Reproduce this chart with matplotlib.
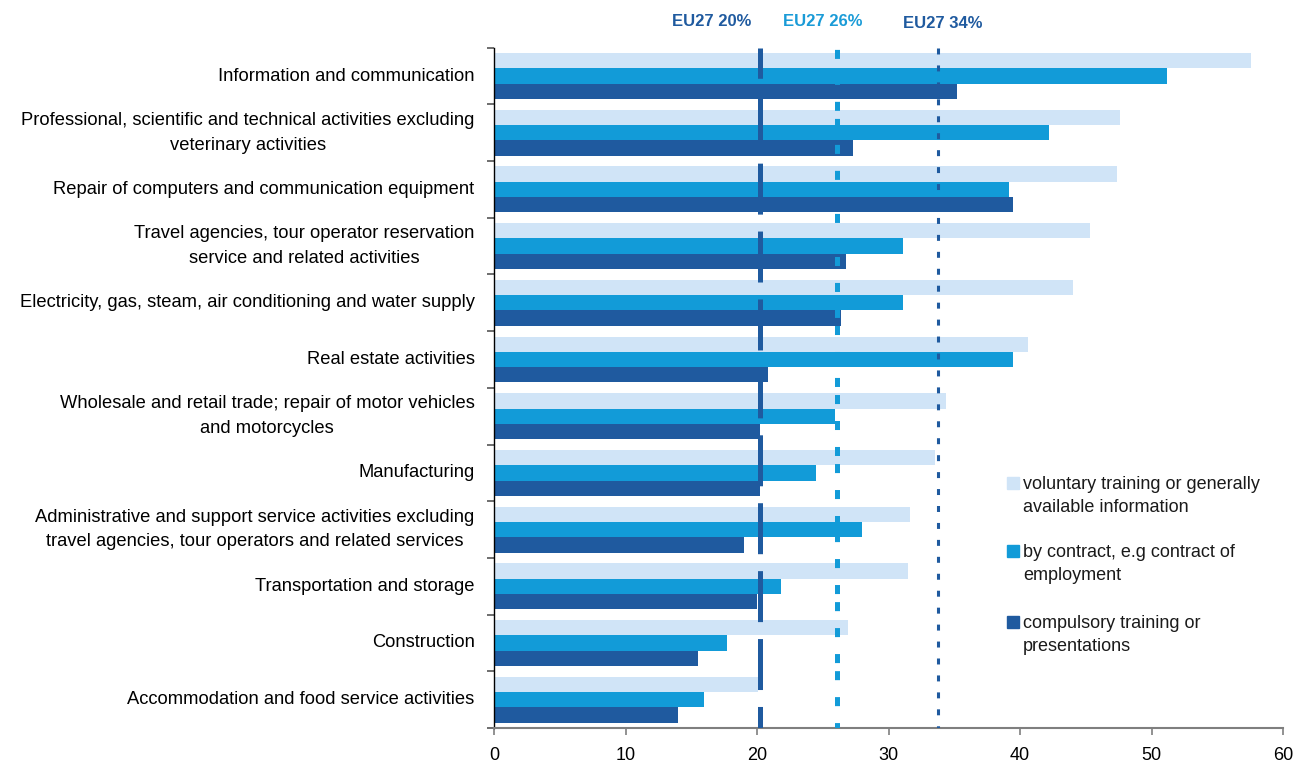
import matplotlib
matplotlib.use('Agg')
import matplotlib.pyplot as plt
from matplotlib.patches import Rectangle
from matplotlib.transforms import blended_transform_factory

# data
categories = [
    'Information and communication',
    'Professional, scientific and technical activities excluding\nveterinary activities',
    'Repair of computers and communication equipment',
    'Travel agencies, tour operator reservation\nservice and related activities',
    'Electricity, gas, steam, air conditioning and water supply',
    'Real estate activities',
    'Wholesale and retail trade; repair of motor vehicles\nand motorcycles',
    'Manufacturing',
    'Administrative and support service activities excluding\ntravel agencies, tour operators and related services',
    'Transportation and storage',
    'Construction',
    'Accommodation and food service activities',
]
voluntary = [57.6, 47.6, 47.4, 45.3, 44.0, 40.6, 34.4, 33.5, 31.6, 31.5, 26.9, 20.1]
contract = [51.2, 42.2, 39.2, 31.1, 31.1, 39.5, 25.9, 24.5, 28.0, 21.8, 17.7, 16.0]
compulsory = [35.2, 27.3, 39.5, 26.8, 26.4, 20.8, 20.2, 20.2, 19.0, 20.0, 15.5, 14.0]
series_labels = [
    'voluntary training or generally\navailable information',
    'by contract, e.g contract of\nemployment',
    'compulsory training or\npresentations',
]
eu27_values = [20.2, 26.1, 33.8]
eu27_labels = ['EU27 20%', 'EU27 26%', 'EU27 34%']
x_ticks = [0, 10, 20, 30, 40, 50, 60]

LIGHT = '#D0E4F7'
MID = '#129BD8'
DARK = '#1F5A9F'
W, H = 1304, 765
FS = 13

plt.rcParams['font.family'] = ['Liberation Sans', 'DejaVu Sans']
plt.rcParams['lines.scale_dashes'] = False

fig = plt.figure(figsize=(W / 100, H / 100), dpi=100)
ax = fig.add_axes([494 / W, 1 - 728 / H, (1283 - 494) / W, (728 - 47.7) / H])

n = len(categories)
pos = list(range(n))
bh = 0.27
series = [voluntary, contract, compulsory]
colors = [LIGHT, MID, DARK]
for k, (vals, col) in enumerate(zip(series, colors)):
    ax.barh([p + (k - 1) * bh for p in pos], vals, height=bh, color=col, zorder=2)

# EU27 reference lines (dash patterns in points)
line_styles = [
    dict(color=DARK, lw=3.6, ls=(14.9, (36.7, 12.2))),
    dict(color=MID, lw=3.6, ls=(11.3, (6.5, 5.8, 6.5, 12.2, 6.5, 12.2))),
    dict(color=DARK, lw=2.2, ls=(0, (4.3, 7.9))),
]
label_offsets = [(-0.6, 'right'), (-1.1, 'center'), (0.3, 'center')]
label_y = [1 - 21 / H, 1 - 21 / H, 1 - 23 / H]
label_colors = [DARK, '#1A9BD7', DARK]
trans = blended_transform_factory(ax.transData, fig.transFigure)
for i, x in enumerate(eu27_values):
    st = line_styles[i]
    ax.plot([x, x], [-0.5, n - 0.5], color=st['color'], lw=st['lw'],
            linestyle=st['ls'], zorder=3, solid_capstyle='butt')
    dx, ha = label_offsets[i]
    ax.text(x + dx, label_y[i], eu27_labels[i], transform=trans, ha=ha, va='center',
            fontsize=12, fontweight='bold', color=label_colors[i])

ax.set_xlim(0, 60)
ax.set_ylim(n - 0.5, -0.5)
ax.set_xticks(x_ticks)
ax.set_xticklabels([str(t) for t in x_ticks], fontsize=FS)
ax.tick_params(axis='x', length=5, width=1.2, color='#7F7F7F', pad=9)

ax.set_yticks([p - 0.5 for p in pos] + [n - 0.5])
ax.set_yticklabels([])
ax.tick_params(axis='y', which='major', length=5, width=1.2, color='#555555')
ax.set_yticks(pos, minor=True)
ax.set_yticklabels(categories, minor=True, fontsize=13.2, linespacing=1.6,
                   multialignment='center')
ax.tick_params(axis='y', which='minor', length=0, pad=14)
for lbl in ax.get_yticklabels(minor=True):
    lbl.set_verticalalignment('center')

for s in ['top', 'right']:
    ax.spines[s].set_visible(False)
ax.spines['left'].set_color('black')
ax.spines['left'].set_linewidth(1.0)
ax.spines['bottom'].set_color('#7F7F7F')
ax.spines['bottom'].set_linewidth(1.5)

# legend drawn by hand so the swatch lines up with the first text line
leg_y = [483, 551, 622]
for ly, col, lab in zip(leg_y, colors, series_labels):
    fig.add_artist(Rectangle((1007 / W, 1 - (ly + 6) / H), 12 / W, 12 / H,
                             transform=fig.transFigure, color=col))
    fig.text(1023 / W, 1 - (ly - 7) / H, lab, fontsize=FS, va='top',
             ha='left', linespacing=1.45, color='#1A1A1A')

fig.savefig('out.png', dpi=100)
